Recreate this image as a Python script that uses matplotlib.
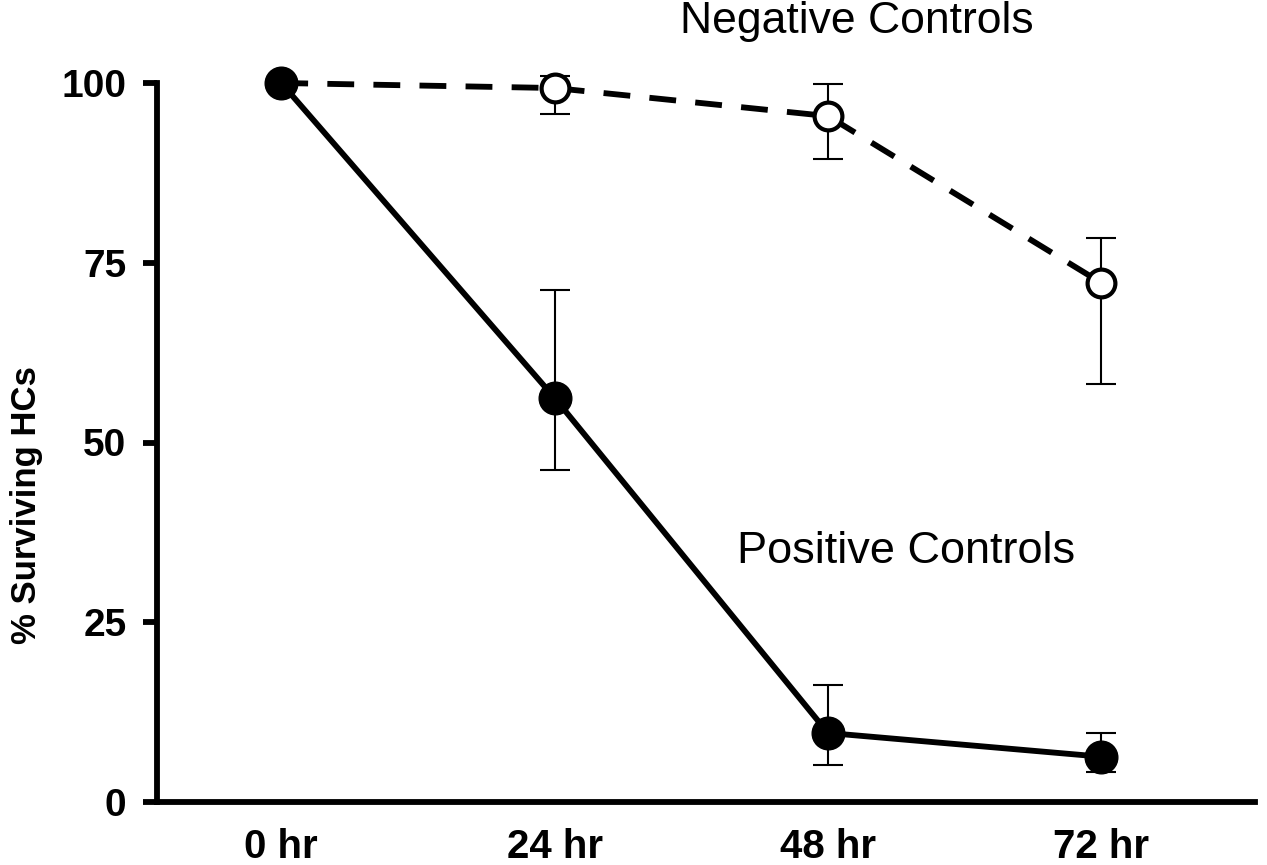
import matplotlib
matplotlib.use("Agg")
import matplotlib.pyplot as plt

plt.rcParams["font.family"] = ["Liberation Sans", "DejaVu Sans"]

# values (% surviving hair cells)
hours = [0, 24, 48, 72]
hour_labels = ["0 hr", "24 hr", "48 hr", "72 hr"]

pos_mean = [100, 56.2, 9.6, 6.3]
pos_upper = [100, 71.2, 16.3, 9.6]
pos_lower = [100, 46.2, 5.1, 4.2]

neg_mean = [100, 99.3, 95.4, 72.2]
neg_upper = [100, 101.0, 99.9, 78.4]
neg_lower = [100, 95.7, 89.4, 58.1]

W, H = 1267, 865
fig = plt.figure(figsize=(W / 100, H / 100), dpi=100)
ax = fig.add_axes([157 / W, 63 / H, (1255 - 157) / W, (802 - 83) / H])

lw = 4.2


def yerr(mean, lo, hi):
    return [[m - l for m, l in zip(mean, lo)], [h - m for m, h in zip(mean, hi)]]


# error bars (skip the 0 hr point, it has none)
ax.errorbar(hours[1:], neg_mean[1:], yerr=yerr(neg_mean[1:], neg_lower[1:], neg_upper[1:]),
            fmt="none", ecolor="black", elinewidth=1.5, capsize=10.5, capthick=1.5,
            zorder=2, clip_on=False)
ax.errorbar(hours[1:], pos_mean[1:], yerr=yerr(pos_mean[1:], pos_lower[1:], pos_upper[1:]),
            fmt="none", ecolor="black", elinewidth=1.5, capsize=10.5, capthick=1.5,
            zorder=2, clip_on=False)

# negative controls: dashed, open circles
ax.plot(hours, neg_mean, color="black", lw=lw, linestyle=(0, (4.6, 3.3)),
        marker="o", markersize=20, markerfacecolor="white",
        markeredgecolor="black", markeredgewidth=3, zorder=3, clip_on=False)

# positive controls: solid, filled circles
ax.plot(hours, pos_mean, color="black", lw=lw, linestyle="-",
        marker="o", markersize=23.5, markerfacecolor="black",
        markeredgecolor="black", markeredgewidth=1, zorder=4, clip_on=False)

ax.set_xlim(-10.91, 85.49)
ax.set_ylim(0, 100)

ax.spines["top"].set_visible(False)
ax.spines["right"].set_visible(False)
ax.spines["left"].set_linewidth(lw)
ax.spines["bottom"].set_linewidth(lw)
ax.spines["left"].set_bounds(0, 100)

ax.set_yticks([0, 25, 50, 75, 100])
ax.set_yticklabels(["0", "25", "50", "75", "100"], fontsize=28, fontweight="bold")
ax.tick_params(axis="y", direction="out", length=10, width=lw, pad=12)

ax.set_xticks(hours)
ax.set_xticklabels(hour_labels, fontsize=29, fontweight="bold")
ax.tick_params(axis="x", length=0, pad=19)

ax.set_ylabel("% Surviving HCs", fontsize=25, fontweight="bold")
ax.yaxis.set_label_coords(-0.104, 0.413)

ax.text(35.0, 107.0, "Negative Controls", fontsize=32, ha="left", va="baseline",
        clip_on=False)
ax.text(40.0, 33.2, "Positive Controls", fontsize=32.5, ha="left", va="baseline")

fig.savefig("out.png", dpi=100)
